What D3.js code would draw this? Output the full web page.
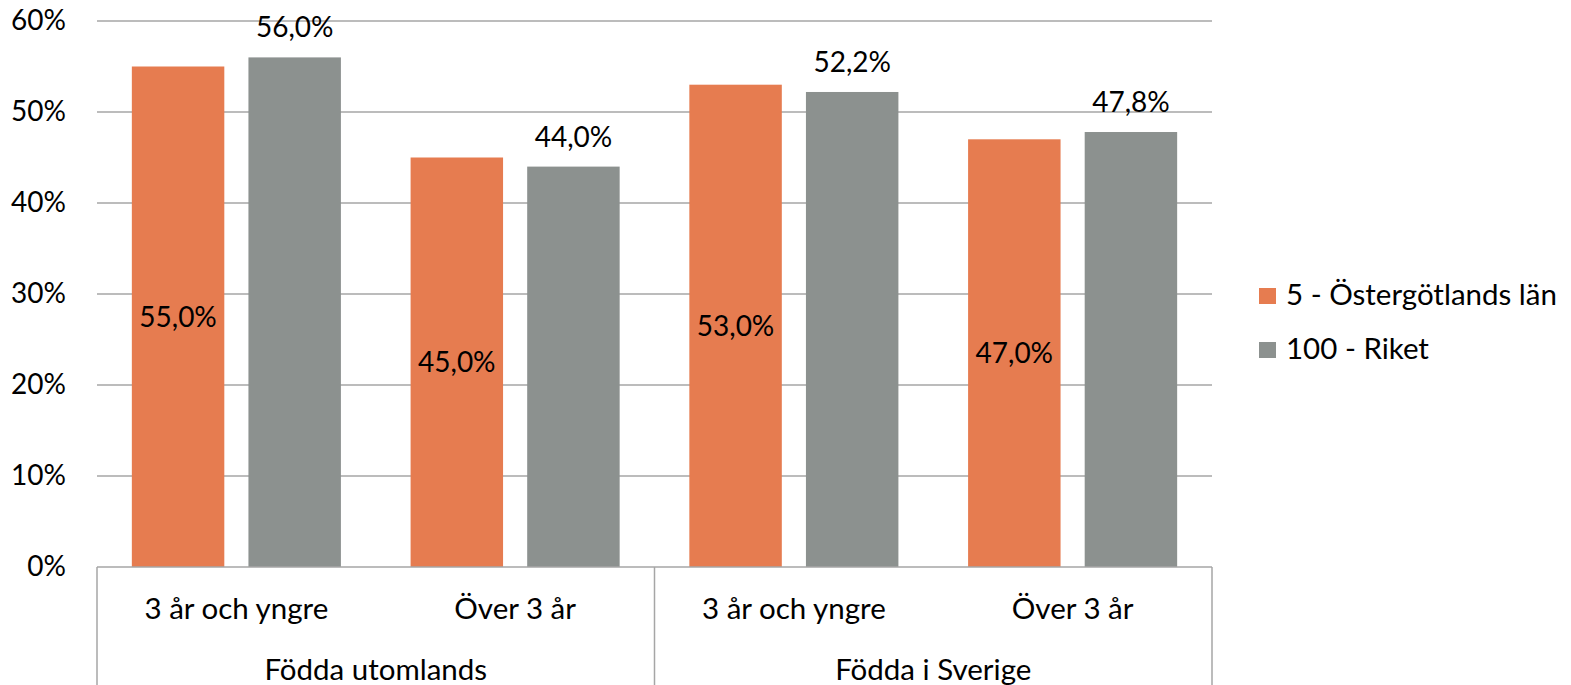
<!DOCTYPE html>
<html>
<head>
<meta charset="utf-8">
<script src="https://cdn.jsdelivr.net/npm/d3@7"></script>
<style>
  body { margin: 0; background: #fff; }
  svg text { font-family: Lato, "Open Sans", sans-serif; fill: #000; }
</style>
</head>
<body>
<div class="chart"></div>
<script>
// data
var groups = ["Födda utomlands", "Födda i Sverige"];
var subCategories = ["3 år och yngre", "Över 3 år"];
var seriesNames = ["5 - Östergötlands län", "100 - Riket"];
var ostergotland = [55.0, 45.0, 53.0, 47.0];
var riket = [56.0, 44.0, 52.2, 47.8];
var yTicks = [0, 10, 20, 30, 40, 50, 60];

var colors = ["#E67C50", "#8C918F"];
var numSize = "28px";
var textSize = "29.5px";

var svgWidth = 1571;
var svgHeight = 685;
var margin = { top: 21, right: 359, bottom: 118, left: 97 };
var width = svgWidth - margin.left - margin.right;
var height = svgHeight - margin.top - margin.bottom;

var svg = d3.select(".chart")
  .append("svg")
  .attr("width", svgWidth)
  .attr("height", svgHeight);

var chartGroup = svg.append("g")
  .attr("transform", `translate(${margin.left}, ${margin.top})`);

// build category rows
var cats = [];
groups.forEach(function(g, gi) {
  subCategories.forEach(function(s, si) {
    var i = gi * subCategories.length + si;
    cats.push({ key: g + "|" + s, group: g, label: s, values: [ostergotland[i], riket[i]] });
  });
});

var x0 = d3.scaleBand()
  .domain(cats.map(d => d.key))
  .range([0, width])
  .paddingInner(0.25)
  .paddingOuter(0.125);

var x1 = d3.scaleBand()
  .domain([0, 1])
  .range([0, x0.bandwidth()])
  .paddingInner(0.207);

var y = d3.scaleLinear()
  .domain([0, 60])
  .range([height, 0]);

// gridlines
chartGroup.append("g")
  .selectAll("line")
  .data(yTicks.filter(t => t > 0))
  .enter()
  .append("line")
  .attr("x1", 0)
  .attr("x2", width)
  .attr("y1", d => y(d))
  .attr("y2", d => y(d))
  .attr("stroke", "#A6A6A6")
  .attr("stroke-width", 1.5);

// y axis labels
var leftAxis = d3.axisLeft(y).tickValues(yTicks).tickFormat(d => d + "%").tickSize(0).tickPadding(31);
var yAxis = chartGroup.append("g").call(leftAxis);
yAxis.select(".domain").remove();
yAxis.selectAll("text").style("font-size", numSize).style("font-family", "Lato, 'Open Sans', sans-serif").attr("fill", "#000");

// bars
var catGroups = chartGroup.selectAll(".cat")
  .data(cats)
  .enter()
  .append("g")
  .attr("transform", d => `translate(${x0(d.key)}, 0)`);

catGroups.selectAll("rect")
  .data(d => d.values.map((v, i) => ({ v: v, i: i })))
  .enter()
  .append("rect")
  .attr("x", d => x1(d.i))
  .attr("width", x1.bandwidth())
  .attr("y", d => y(d.v))
  .attr("height", d => height - y(d.v))
  .attr("fill", d => colors[d.i]);

var fmt = v => v.toFixed(1).replace(".", ",") + "%";

// labels: series 1 centred inside, series 2 above
catGroups.selectAll(".lbl")
  .data(d => d.values.map((v, i) => ({ v: v, i: i })))
  .enter()
  .append("text")
  .attr("x", d => x1(d.i) + x1.bandwidth() / 2)
  .attr("y", d => d.i === 0 ? (y(d.v) + height) / 2 + 10 : y(d.v) - 20)
  .attr("text-anchor", "middle")
  .style("font-size", numSize)
  .text(d => fmt(d.v));

// category axis
var axisG = chartGroup.append("g").attr("transform", `translate(0, ${height})`);
axisG.append("line")
  .attr("x1", 0).attr("x2", width)
  .attr("y1", 0).attr("y2", 0)
  .attr("stroke", "#A6A6A6").attr("stroke-width", 1.5);

var step = x0.step();
var groupW = step * subCategories.length;
d3.range(groups.length + 1).forEach(function(i) {
  axisG.append("line")
    .attr("x1", i * groupW).attr("x2", i * groupW)
    .attr("y1", 0).attr("y2", margin.bottom)
    .attr("stroke", "#A6A6A6").attr("stroke-width", 1.5);
});

axisG.selectAll(".sub")
  .data(cats)
  .enter()
  .append("text")
  .attr("x", d => x0(d.key) + x0.bandwidth() / 2)
  .attr("y", 52)
  .attr("text-anchor", "middle")
  .style("font-size", textSize)
  .text(d => d.label);

axisG.selectAll(".grp")
  .data(groups)
  .enter()
  .append("text")
  .attr("x", (d, i) => i * groupW + groupW / 2)
  .attr("y", 113)
  .attr("text-anchor", "middle")
  .style("font-size", textSize)
  .text(d => d);

// legend
var legend = svg.append("g").attr("transform", "translate(1259, 288)");
seriesNames.forEach(function(name, i) {
  var row = legend.append("g").attr("transform", `translate(0, ${i * 54})`);
  row.append("rect").attr("width", 17).attr("height", 16).attr("fill", colors[i]);
  row.append("text").attr("x", 27).attr("y", 17).style("font-size", textSize).text(name);
});
</script>
</body>
</html>
